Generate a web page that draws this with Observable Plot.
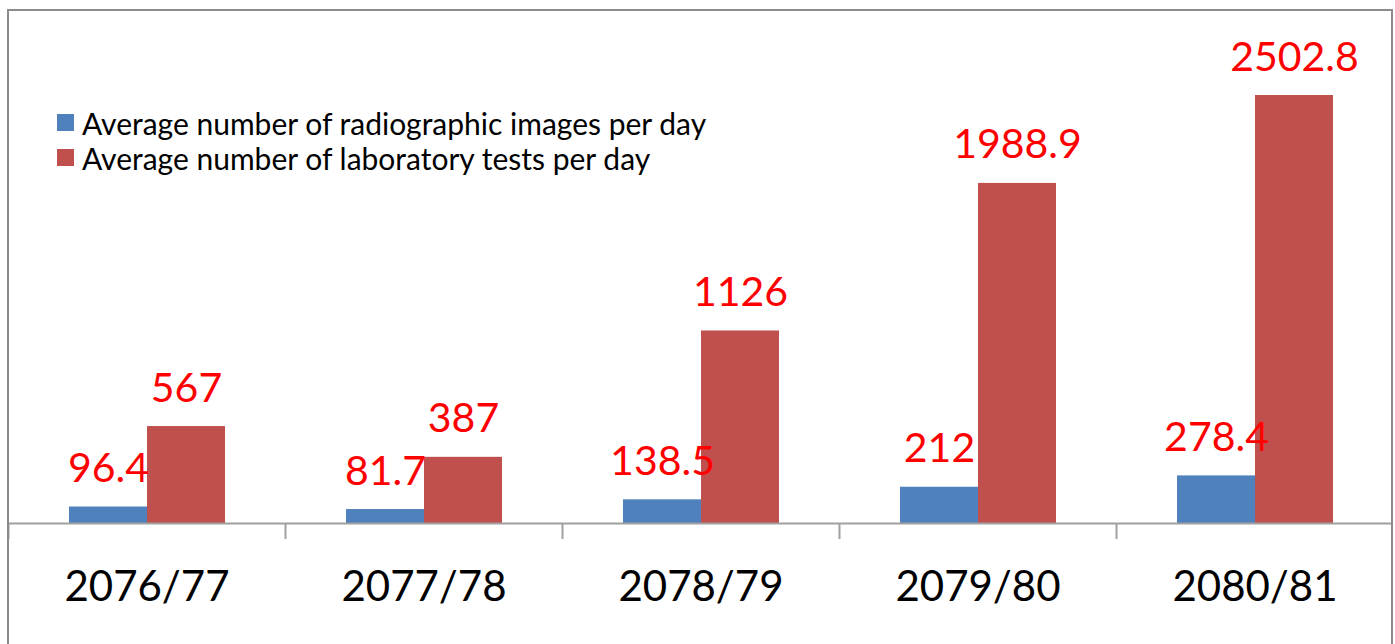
<!DOCTYPE html>
<html>
<head>
<meta charset="utf-8">
<script src="https://cdn.jsdelivr.net/npm/d3@7"></script>
<script src="https://cdn.jsdelivr.net/npm/@observablehq/plot@0.6"></script>
<style>
  html, body { margin: 0; padding: 0; background: #fff; overflow: hidden; }
  #wrap { position: relative; width: 1395px; height: 644px; }
  #border { position: absolute; left: 7px; top: 9px; width: 1386px; height: 700px;
    border: 2px solid #8c8c8c; border-bottom: none; box-sizing: border-box; pointer-events: none; z-index: 2; }
  #legend { position: absolute; left: 57px; top: 105px; font-family: Lato, sans-serif; font-size: 30px; color: #000; z-index: 3; }
  #legend .row { display: flex; align-items: center; height: 35px; }
  #legend .sw { width: 17px; height: 17px; margin-right: 8px; }
</style>
</head>
<body>
<div id="wrap">
  <div id="chart"></div>
  <div id="border"></div>
  <div id="legend"></div>
</div>
<script>
const years = ["2076/77", "2077/78", "2078/79", "2079/80", "2080/81"];
const radiographic = [96.4, 81.7, 138.5, 212, 278.4];
const laboratory = [567, 387, 1126, 1988.9, 2502.8];
const seriesNames = [
  "Average number of radiographic images per day",
  "Average number of laboratory tests per day"
];
const seriesColors = ["#4F81BD", "#C0504D"];

const data = years.flatMap((yr, i) => [
  {year: yr, series: seriesNames[0], value: radiographic[i]},
  {year: yr, series: seriesNames[1], value: laboratory[i]}
]);

const W = 1395, H = 644, mL = 8, mR = 2;
const halfBand = (W - mL - mR) / years.length / 2;

const chart = Plot.plot({
  width: W,
  height: H,
  marginLeft: mL,
  marginRight: mR,
  marginTop: 10,
  marginBottom: 121,
  style: {fontFamily: "Lato, sans-serif", background: "transparent", overflow: "visible"},
  fx: {domain: years, padding: 0, label: null},
  x: {domain: seriesNames, paddingInner: 0, paddingOuter: 0.76, axis: null},
  y: {domain: [0, 3000], axis: null},
  color: {domain: seriesNames, range: seriesColors},
  marks: [
    Plot.barY(data, {fx: "year", x: "series", y: "value", fill: "series"}),
    Plot.ruleY([0], {stroke: "#a0a0a0", strokeWidth: 2}),
    Plot.axisFx({anchor: "bottom", tickSize: 16, text: null, label: null, dx: -halfBand, stroke: "#a0a0a0", strokeWidth: 2}),
    Plot.axisFx({anchor: "bottom", tickSize: 0, tickPadding: 48, fontSize: 42, fill: "#000", label: null}),
    Plot.text(data, {fx: "year", x: "series", y: "value", text: d => String(d.value),
      lineAnchor: "bottom", dy: -25, fill: "#ff0000", fontSize: 41})
  ]
});
document.getElementById("chart").appendChild(chart);

const legend = document.getElementById("legend");
seriesNames.forEach((name, i) => {
  const row = document.createElement("div");
  row.className = "row";
  const sw = document.createElement("div");
  sw.className = "sw";
  sw.style.background = seriesColors[i];
  const t = document.createElement("span");
  t.textContent = name;
  row.appendChild(sw);
  row.appendChild(t);
  legend.appendChild(row);
});
</script>
</body>
</html>
